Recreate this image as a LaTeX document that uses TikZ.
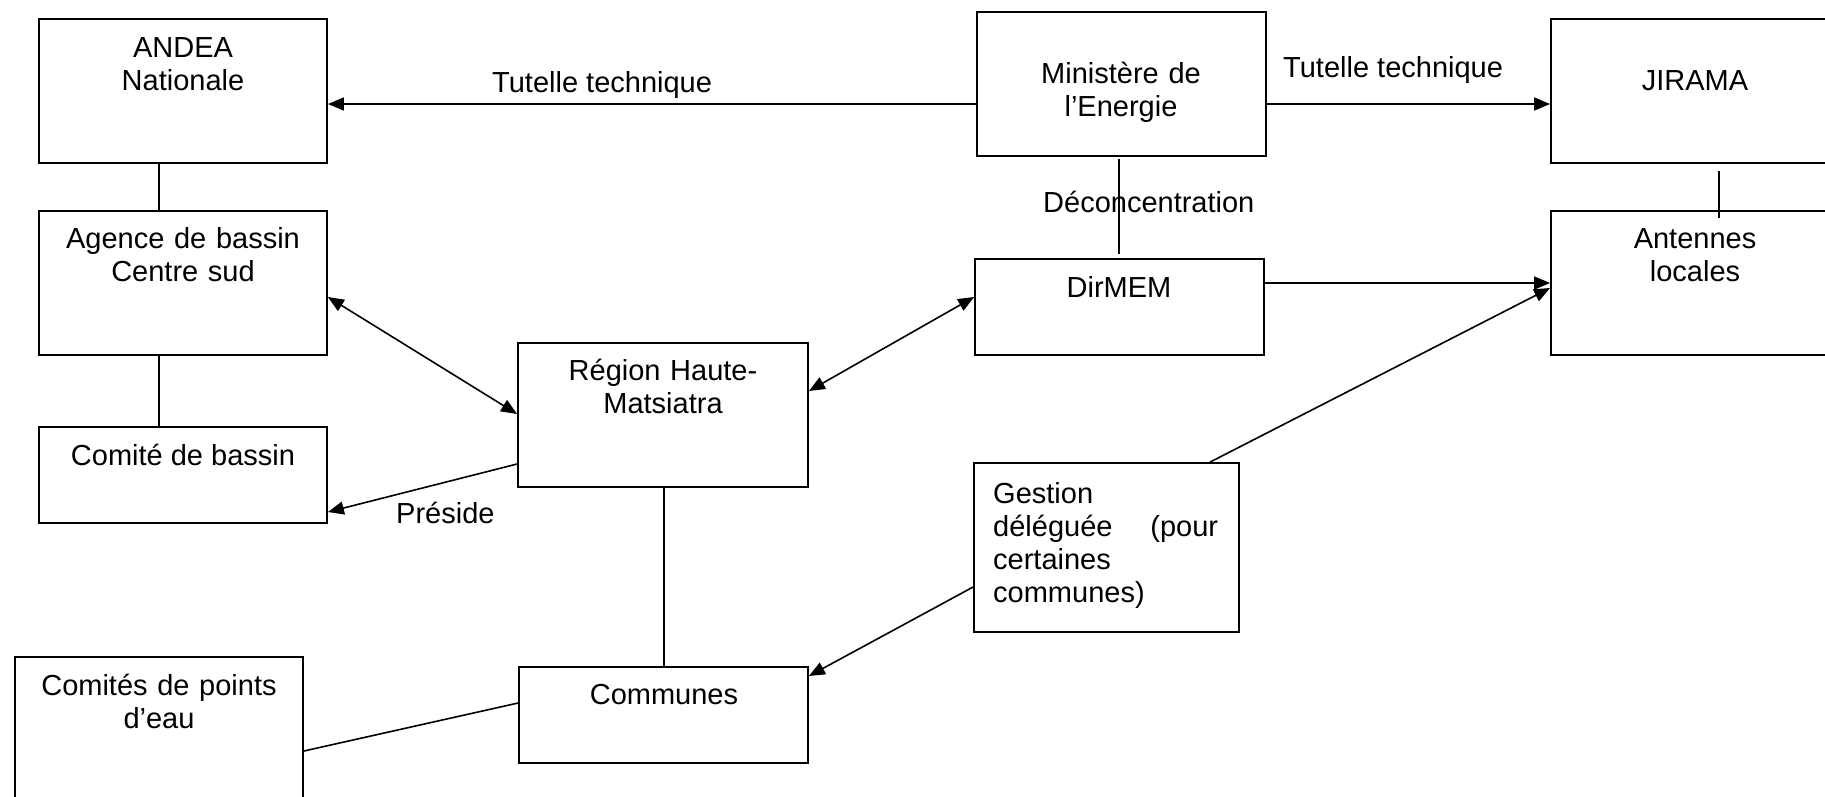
\documentclass[tikz,border=0pt]{standalone}
\usepackage{fontspec}
\setmainfont{Liberation Sans}
\usetikzlibrary{arrows.meta}
\newcommand\mkbox[5]{\node[box,minimum width={#4-#2},minimum height={#5-#3}] (#1) at ({(#2+#4)/2},{(#3+#5)/2}) {};}
\begin{document}
\begin{tikzpicture}[x=1pt,y=-1pt,
  box/.style={draw,line width=1.8pt,inner sep=0pt},
  txt/.style={font=\fontsize{29}{33}\selectfont,inner sep=0pt,anchor=base},
  mtxt/.style={txt,align=center,text width=290pt},
  ln/.style={line width=1.6pt},
  arr/.style={ln,-{Triangle[length=16pt,width=13pt]}},
  darr/.style={ln,{Triangle[length=16pt,width=13pt]}-{Triangle[length=16pt,width=13pt]}}]
\useasboundingbox (0,0) rectangle (1825,796);
\clip (0,0) rectangle (1825,796);
\fill[white] (0,0) rectangle (1825,796);
% boxes
\mkbox{andea}{39}{19}{327}{163}
\mkbox{agence}{39}{211}{327}{355}
\mkbox{comite}{39}{427}{327}{523}
\mkbox{region}{518}{343}{808}{487}
\mkbox{ministere}{977}{12}{1266}{156}
\mkbox{dirmem}{975}{259}{1264}{355}
\mkbox{jirama}{1551}{19}{1839}{163}
\mkbox{antennes}{1551}{211}{1839}{355}
\mkbox{gestion}{974}{463}{1239}{632}
\mkbox{communes}{519}{667}{808}{763}
\mkbox{comites}{15}{657}{303}{830}
% texts
\node[mtxt] (tandea) at (183,57) {ANDEA\\Nationale};
\node[mtxt] (tagence) at (183,248) {Agence de bassin\\Centre sud};
\node[txt] (tcomite) at (183,465) {Comité de bassin};
\node[mtxt] (tregion) at (663,380) {Région Haute-\\Matsiatra};
\node[mtxt] (tministere) at (1121,83) {Ministère de\\l’Energie};
\node[txt] (tdirmem) at (1119,297) {DirMEM};
\node[txt] (tjirama) at (1695,90) {JIRAMA};
\node[mtxt] (tantennes) at (1695,248) {Antennes\\locales};
\node[txt,anchor=base west,text width=225pt,align=left] (tgestion) at (993,503)
  {Gestion\\\makebox[225pt][l]{déléguée\hfill(pour}\\certaines\\communes)};
\node[txt] (tcommunes) at (664,704) {Communes};
\node[mtxt] (tcomites) at (159,695) {Comités de points\\d’eau};
% labels
\node[txt,anchor=base west] (ltut1) at (492,92) {Tutelle technique};
\node[txt,anchor=base west] (ltut2) at (1283,77) {Tutelle technique};
\node[txt,anchor=base west] (ldec) at (1043,212) {Déconcentration};
\node[txt,anchor=base west] (lpres) at (396,523) {Préside};
% connectors
\draw[ln] (andea.south -| 159,0) -- (agence.north -| 159,0);
\draw[ln] (agence.south -| 159,0) -- (comite.north -| 159,0);
\draw[arr] (ministere.west |- 0,104) -- (andea.east |- 0,104);
\draw[arr] (ministere.east |- 0,104) -- (jirama.west |- 0,104);
\draw[ln] ([yshift=-2pt]ministere.south -| 1119,0) -- ([yshift=4pt]dirmem.north -| 1119,0);
\draw[ln] ([yshift=-7pt]jirama.south -| 1719,0) -- ([yshift=-8pt]antennes.north -| 1719,0);
\draw[arr] (dirmem.east |- 0,283) -- (antennes.west |- 0,283);
\draw[arr] (gestion.north -| 1210,0) -- (antennes.west |- 0,288);
\draw[darr] (agence.east |- 0,297) -- (region.west |- 0,414);
\draw[darr] (region.east |- 0,391) -- (dirmem.west |- 0,297);
\draw[arr] (region.west |- 0,464) -- (comite.east |- 0,512);
\draw[ln] (region.south -| 664,0) -- (communes.north -| 664,0);
\draw[arr] (gestion.west |- 0,587) -- (communes.east |- 0,676);
\draw[ln] (communes.west |- 0,703) -- (comites.east |- 0,751);
\end{tikzpicture}
\end{document}
